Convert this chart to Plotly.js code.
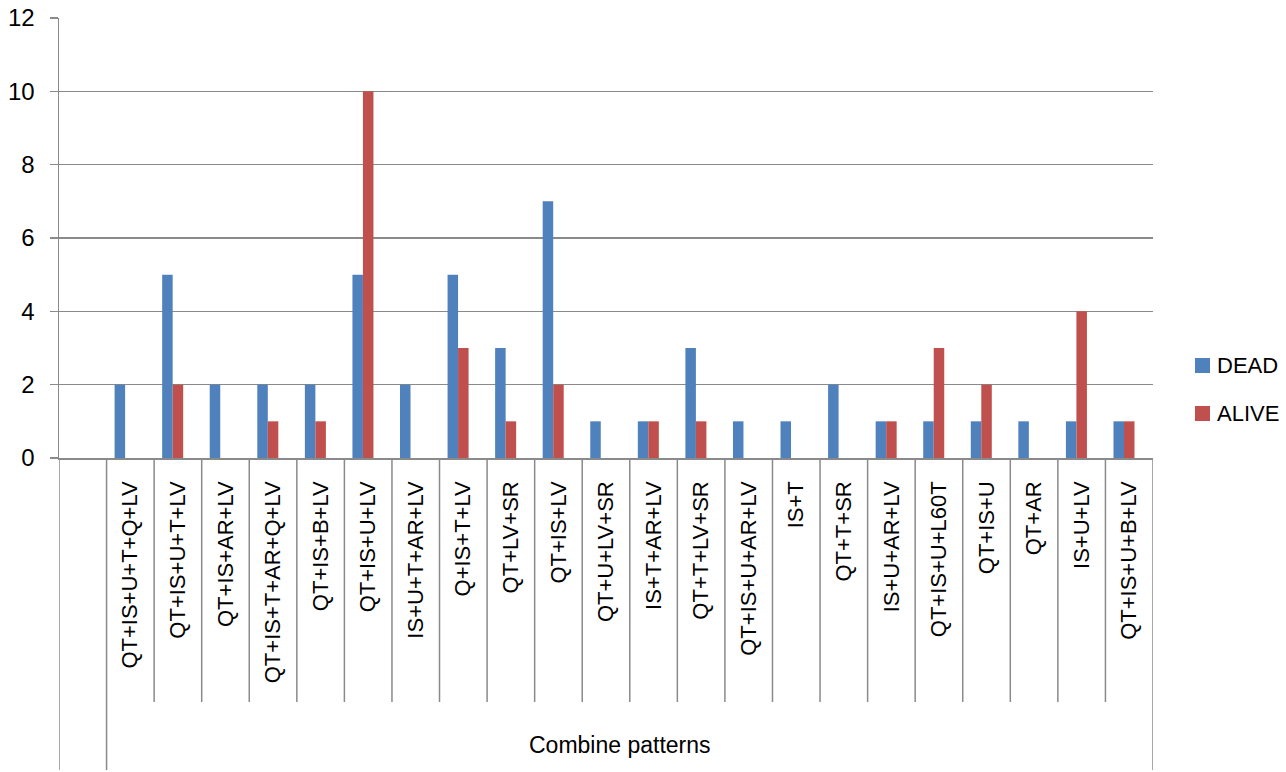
<!DOCTYPE html>
<html>
<head>
<meta charset="utf-8">
<script src="https://cdn.plot.ly/plotly-3.0.1.min.js"></script>
<style>
  html, body { margin: 0; padding: 0; background: #ffffff; }
  #chart { width: 1286px; height: 772px; }
</style>
</head>
<body>
<div id="chart"></div>
<script>
// Combination patterns (first slot of the axis is left blank)
const patterns = [
  "QT+IS+U+T+Q+LV", "QT+IS+U+T+LV", "QT+IS+AR+LV", "QT+IS+T+AR+Q+LV",
  "QT+IS+B+LV", "QT+IS+U+LV", "IS+U+T+AR+LV", "Q+IS+T+LV",
  "QT+LV+SR", "QT+IS+LV", "QT+U+LV+SR", "IS+T+AR+LV",
  "QT+T+LV+SR", "QT+IS+U+AR+LV", "IS+T", "QT+T+SR",
  "IS+U+AR+LV", "QT+IS+U+L60T", "QT+IS+U", "QT+AR",
  "IS+U+LV", "QT+IS+U+B+LV"
];
const dead  = [2, 5, 2, 2, 2, 5, 2, 5, 3, 7, 1, 1, 3, 1, 1, 2, 1, 1, 1, 1, 1, 1];
const alive = [0, 2, 0, 1, 1, 10, 0, 3, 1, 2, 0, 1, 1, 0, 0, 0, 1, 3, 2, 0, 4, 1];
const seriesNames = ["DEAD", "ALIVE"];
const seriesColors = ["#4f81bd", "#c0504d"];
const yTicks = [0, 2, 4, 6, 8, 10, 12];
const groupLabel = "Combine patterns";

const FONT = "Liberation Sans, Arial, sans-serif";
const GRID = "#8a8a8a";

// plot box in pixels, used to place items outside the axes
const PLOT = { l: 59, r: 1153, t: 18, b: 458 };
const pxX = px => (px - PLOT.l) / (PLOT.r - PLOT.l);
const pxY = px => (PLOT.b - px) / (PLOT.b - PLOT.t);

// slot 0 is the empty category, patterns occupy slots 1..N
const xs = patterns.map((_, i) => i + 1);
const nSlots = patterns.length + 1;

const traces = [
  {
    type: "bar", name: seriesNames[0], x: xs, y: dead,
    width: 0.221, offset: -0.331,
    marker: { color: seriesColors[0], line: { width: 0 } },
    showlegend: false, hoverinfo: "x+y"
  },
  {
    type: "bar", name: seriesNames[1], x: xs, y: alive,
    width: 0.221, offset: -0.110,
    marker: { color: seriesColors[1], line: { width: 0 } },
    showlegend: false, hoverinfo: "x+y"
  }
];

// category box dividers below the axis
const shapes = [];
for (let k = 0; k <= nSlots; k++) {
  const xb = k - 0.5;
  const long = (k === 0 || k === 1 || k === nSlots);
  shapes.push({
    type: "line", xref: "x", yref: "paper",
    x0: xb, x1: xb, y0: 0, y1: pxY(long ? 770 : 702),
    line: { color: GRID, width: 1.5 }
  });
}

// legend: colour keys and series names on the right
const annotations = [];
seriesNames.forEach((name, i) => {
  const cy = 365.5 + i * 48;
  shapes.push({
    type: "rect", xref: "paper", yref: "paper",
    x0: pxX(1195), x1: pxX(1210), y0: pxY(cy - 7.5), y1: pxY(cy + 7.5),
    fillcolor: seriesColors[i], line: { width: 0 }
  });
  annotations.push({
    text: name, xref: "paper", yref: "paper",
    x: pxX(1215), y: pxY(cy), xanchor: "left", yanchor: "middle",
    showarrow: false, font: { family: FONT, size: 22, color: "#000000" }
  });
});

annotations.push({
  text: groupLabel, xref: "x", yref: "paper",
  x: (1 + patterns.length) / 2 - 0.2, y: pxY(745),
  showarrow: false, xanchor: "center", yanchor: "middle",
  font: { family: FONT, size: 23, color: "#000000" }
});

const layout = {
  width: 1286, height: 772,
  margin: { l: PLOT.l, r: 1286 - PLOT.r, t: PLOT.t, b: 772 - PLOT.b },
  paper_bgcolor: "#ffffff", plot_bgcolor: "#ffffff",
  font: { family: FONT, size: 22, color: "#000000" },
  barmode: "overlay",
  showlegend: false,
  xaxis: {
    type: "linear", range: [-0.5, nSlots - 0.5],
    tickmode: "array", tickvals: xs, ticktext: patterns,
    tickangle: -90, ticks: "", ticklabelstandoff: 13,
    tickfont: { family: FONT, size: 22, color: "#000000" },
    showgrid: false, zeroline: false,
    showline: true, linecolor: GRID, linewidth: 1.5,
    fixedrange: true, automargin: false
  },
  yaxis: {
    range: [0, 12], tickmode: "array", tickvals: yTicks,
    ticks: "outside", ticklen: 8, tickcolor: GRID, tickwidth: 1.5,
    ticklabelstandoff: 10,
    tickfont: { family: FONT, size: 24, color: "#000000" },
    showgrid: true, gridcolor: GRID, gridwidth: 1.5,
    zeroline: false, showline: true, linecolor: GRID, linewidth: 1.5,
    fixedrange: true, automargin: false
  },
  shapes: shapes,
  annotations: annotations
};

Plotly.newPlot("chart", traces, layout, { displayModeBar: false, staticPlot: true });
</script>
</body>
</html>
